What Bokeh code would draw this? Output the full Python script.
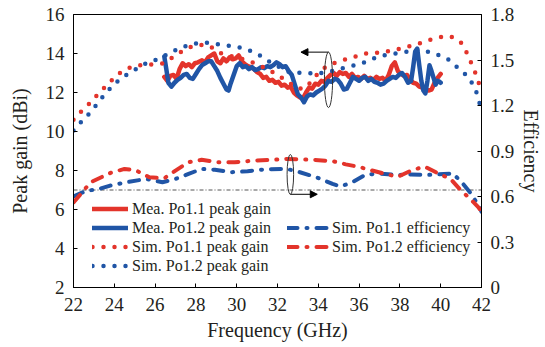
from bokeh.plotting import figure
from bokeh.models import (Range1d, LinearAxis, Legend, LegendItem, Arrow,
                          NormalHead, FixedTicker)
from bokeh.embed import file_html
from bokeh.resources import INLINE

# ---------------- data ----------------
x_ticks = list(range(22, 43, 2))
gain_ticks = [2, 4, 6, 8, 10, 12, 14, 16]
eff_ticks = [0, 0.3, 0.6, 0.9, 1.2, 1.5, 1.8]
eff_tick_labels = ["0", "0.3", "0.6", "0.9", "1.2", "1.5", "1.8"]

mea11_f = [26.45, 26.6, 26.75, 26.9, 27.05, 27.2, 27.35, 27.5, 27.65, 27.8, 27.95, 28.1, 28.3, 28.45,
           28.6, 28.75, 28.9, 29.05, 29.2, 29.35, 29.5, 29.65, 29.8, 29.95, 30.1, 30.25, 30.4, 30.55,
           30.7, 30.85, 31.0, 31.15, 31.3, 31.45, 31.6, 31.75, 31.9, 32.05, 32.2, 32.35, 32.5, 32.65,
           32.8, 32.95, 33.1, 33.25, 33.4, 33.55, 33.7, 33.85, 34.0, 34.15, 34.3, 34.45, 34.6, 34.75,
           34.9, 35.05, 35.2, 35.35, 35.5, 35.65, 35.8, 35.95, 36.1, 36.25, 36.4, 36.55, 36.7, 36.85,
           37.0, 37.15, 37.3, 37.45, 37.6, 37.75, 37.9, 38.05, 38.2, 38.35, 38.5, 38.65, 38.8, 38.95,
           39.1, 39.25, 39.4, 39.55, 39.7, 39.85, 40.0]
mea11_g = [12.8, 12.6, 12.85, 12.9, 12.7, 13.2, 13.5, 13.35, 13.45, 13.3, 13.5, 13.55, 13.65, 13.55,
           13.8, 13.9, 14.0, 13.6, 13.5, 13.75, 13.6, 13.8, 13.7, 13.75, 13.9, 13.6, 13.45, 13.35,
           13.3, 13.2, 13.05, 12.95, 12.75, 12.8, 12.6, 12.65, 12.5, 12.55, 12.35, 12.4, 12.25, 12.3,
           12.0, 11.85, 11.75, 11.7, 12.0, 12.25, 12.2, 12.45, 12.4, 12.6, 12.55, 12.75, 12.9, 13.0,
           12.85, 13.05, 12.95, 13.0, 12.8, 12.95, 12.75, 12.8, 12.7, 12.85, 12.7, 12.75, 12.65, 12.8,
           12.7, 12.75, 12.6, 12.9, 13.35, 13.55, 13.1, 12.95, 12.85, 12.9, 12.65, 12.5, 12.45, 12.3,
           12.25, 12.2, 12.1, 12.15, 12.5, 12.75, 12.95]

mea12_f = [26.45, 26.55, 26.65, 26.8, 26.95, 27.1, 27.25, 27.4, 27.55, 27.7, 27.85, 28.0, 28.15, 28.3,
           28.45, 28.6, 28.75, 28.9, 29.05, 29.2, 29.35, 29.5, 29.6, 29.7, 29.85, 30.0, 30.15, 30.3,
           30.45, 30.6, 30.75, 30.9, 31.05, 31.2, 31.35, 31.5, 31.65, 31.8, 31.95, 32.1, 32.25, 32.4,
           32.55, 32.7, 32.85, 33.0, 33.15, 33.3, 33.45, 33.6, 33.75, 33.9, 34.05, 34.2, 34.35, 34.5,
           34.65, 34.8, 34.95, 35.1, 35.25, 35.4, 35.55, 35.7, 35.85, 36.0, 36.15, 36.3, 36.45, 36.6,
           36.75, 36.9, 37.05, 37.2, 37.35, 37.5, 37.65, 37.8, 37.95, 38.1, 38.25, 38.4, 38.55, 38.65,
           38.75, 38.85, 38.95, 39.05, 39.15, 39.25, 39.35, 39.45, 39.55, 39.65, 39.75, 39.85, 39.95, 40.0]
mea12_g = [13.85, 13.2, 12.5, 12.3, 12.5, 12.65, 12.75, 12.9, 12.95, 12.75, 12.7, 12.95, 13.2, 13.4,
           13.5, 13.6, 13.6, 13.35, 13.1, 12.75, 12.45, 12.15, 12.1, 12.45, 12.9, 13.35, 13.5, 13.3,
           13.35, 13.2, 13.3, 13.15, 13.2, 13.3, 13.25, 13.35, 13.3, 13.4, 13.55, 13.45, 13.3, 13.35,
           13.1, 12.9, 12.4, 11.9, 11.75, 11.5, 11.8, 11.9, 11.85, 12.0, 12.1, 12.2, 12.35, 12.6,
           12.55, 12.7, 12.65, 12.45, 12.15, 12.2, 12.5, 12.8, 12.7, 12.6, 12.75, 12.8, 12.6, 12.7,
           12.55, 12.5, 12.4, 12.45, 12.6, 12.7, 12.8, 12.75, 12.9, 13.0, 12.8, 12.5, 12.6, 13.3,
           14.1, 14.25, 13.4, 12.6, 12.1, 11.95, 12.6, 13.4, 13.1, 12.75, 12.4, 12.6, 12.55, 12.5]

sim11_f = [22.0, 22.4, 22.75, 23.1, 23.47, 23.8, 24.2, 24.6, 24.9, 25.3, 25.6, 26.0, 26.4, 26.7, 27.0,
           27.3, 27.64, 28.0, 28.45, 28.8, 29.1, 29.6, 30.0, 30.5, 31.0, 31.5, 32.0, 32.5, 33.0, 33.3,
           33.7, 34.0, 34.4, 35.0, 35.7, 36.3, 37.0, 37.6, 38.2, 38.9, 39.35, 39.8, 40.3, 40.65, 41.0,
           41.27, 41.5, 41.7, 41.93, 42.0]
sim11_g = [10.6, 11.05, 11.4, 11.8, 12.2, 12.55, 12.95, 13.2, 13.33, 13.4, 13.42, 13.45, 13.5, 13.7, 13.9,
           14.1, 14.3, 14.4, 14.45, 14.3, 14.05, 13.9, 13.8, 13.65, 13.45, 13.2, 12.9, 12.55, 12.2, 12.2,
           12.6, 13.0, 13.35, 13.6, 13.8, 14.0, 14.05, 14.15, 14.3, 14.5, 14.67, 14.8, 14.9, 14.82, 14.55,
           14.05, 13.5, 13.0, 12.3, 12.0]

sim12_f = [22.0, 22.2, 22.67, 23.15, 23.6, 24.28, 24.9, 25.56, 26.1, 26.5, 27.16, 27.8, 28.45, 29.17,
           29.9, 30.37, 31.0, 31.5, 32.12, 32.6, 33.26, 33.9, 34.5, 35.0, 35.6, 36.15, 36.95, 37.75, 38.4,
           39.04, 39.68, 40.32, 40.8, 41.28, 41.68, 41.92, 42.0]
sim12_g = [10.05, 10.3, 10.8, 11.4, 12.0, 12.7, 13.1, 13.5, 13.7, 13.9, 14.25, 14.5, 14.56, 14.46,
           14.36, 14.26, 14.0, 13.64, 13.28, 13.03, 13.0, 12.97, 13.05, 13.2, 13.35, 13.5, 13.85, 14.0, 14.1,
           14.2, 14.0, 13.74, 13.3, 12.87, 12.26, 11.4, 11.1]

eff11_f = [22.0, 22.67, 23.15, 23.8, 24.6, 25.56, 26.36, 27.0, 27.64, 28.28, 28.93, 29.73, 30.53, 31.5,
           32.46, 33.1, 33.9, 34.7, 35.1, 35.67, 36.3, 36.95, 37.9, 38.55, 39.35, 40.15, 40.6, 41.1, 41.5,
           41.9, 42.0]
eff11_e = [0.60, 0.64, 0.645, 0.672, 0.694, 0.716, 0.694, 0.716, 0.749, 0.782, 0.776, 0.76, 0.767, 0.78,
           0.782, 0.76, 0.727, 0.683, 0.666, 0.694, 0.742, 0.752, 0.742, 0.745, 0.742, 0.749, 0.752, 0.683,
           0.617, 0.53, 0.50]

eff12_f = [22.0, 22.84, 23.8, 24.5, 25.08, 25.72, 26.45, 27.0, 27.64, 28.28, 29.09, 29.9, 30.86, 31.8,
           32.46, 33.74, 34.7, 35.35, 36.0, 36.6, 37.27, 37.9, 38.55, 39.2, 39.83, 40.48, 40.96, 41.44,
           41.84, 42.0]
eff12_e = [0.56, 0.694, 0.755, 0.782, 0.771, 0.727, 0.72, 0.771, 0.826, 0.842, 0.826, 0.826, 0.837, 0.842,
           0.848, 0.842, 0.833, 0.812, 0.795, 0.773, 0.749, 0.73, 0.771, 0.798, 0.755, 0.716, 0.645, 0.585,
           0.53, 0.50]

threshold_gain = 7.0

# annotation geometry (gain axis units)
ell_x = [34.5, 32.63]
ell_y = [12.65, 7.8]
ell_w = [0.4, 0.32]
ell_h = [2.85, 2.05]
arrow_up = dict(x_start=34.5, y_start=14.07, x_end=33.15, y_end=14.07)
arrow_lo = dict(x_start=32.63, y_start=6.78, x_end=33.95, y_end=6.78)

RED = "#e3342b"
BLUE = "#2055a6"
FONT = "Liberation Serif"
TXT = "#231f20"

p = figure(width=545, height=347, output_backend="svg", toolbar_location=None,
           x_range=Range1d(22, 42), y_range=Range1d(2, 16),
           min_border_left=73, min_border_right=57, min_border_top=14, min_border_bottom=60)
p.extra_y_ranges = {"eff": Range1d(0, 1.8)}

p.xgrid.visible = False
p.ygrid.visible = False
p.outline_line_color = "black"
p.outline_line_width = 1
p.background_fill_color = "white"
p.border_fill_color = "white"

# threshold line
p.line([22, 42], [threshold_gain, threshold_gain], line_color="#555555", line_width=1,
       line_dash="4 2 1 2")

r_mea11 = p.line(mea11_f, mea11_g, line_color=RED, line_width=4.5, line_join="round", line_cap="round")
r_mea12 = p.line(mea12_f, mea12_g, line_color=BLUE, line_width=4.5, line_join="round", line_cap="round")
r_sim11 = p.line(sim11_f, sim11_g, line_color=RED, line_width=4.5, line_dash="0 11", line_cap="round")
r_sim12 = p.line(sim12_f, sim12_g, line_color=BLUE, line_width=4.5, line_dash="0 11", line_cap="round")
r_eff11 = p.line(eff11_f, eff11_e, y_range_name="eff", line_color=BLUE, line_width=4,
                 line_dash="10 9 1 9", line_cap="round")
r_eff12 = p.line(eff12_f, eff12_e, y_range_name="eff", line_color=RED, line_width=4,
                 line_dash="10 9 1 9", line_cap="round")

p.ellipse(x=ell_x, y=ell_y, width=ell_w, height=ell_h, fill_alpha=0,
          line_color="#333333", line_width=1)
for a in (arrow_up, arrow_lo):
    p.add_layout(Arrow(end=NormalHead(size=7, fill_color="black", line_color="black"),
                       line_color="black", line_width=1, **a))

# axes
right = LinearAxis(y_range_name="eff")
p.add_layout(right, "right")

for ax in (p.xaxis[0], p.yaxis[0], right):
    ax.major_tick_in = 4
    ax.major_tick_out = 0
    ax.minor_tick_in = 0
    ax.minor_tick_out = 0
    ax.axis_line_color = "black"
    ax.major_tick_line_color = "black"
    ax.major_label_text_font = FONT
    ax.major_label_text_font_size = "19px"
    ax.major_label_text_color = TXT
    ax.axis_label_text_font = FONT
    ax.axis_label_text_font_size = "20px"
    ax.axis_label_text_font_style = "normal"
    ax.axis_label_text_color = TXT

p.xaxis[0].ticker = FixedTicker(ticks=x_ticks)
p.yaxis[0].ticker = FixedTicker(ticks=gain_ticks)
right.ticker = FixedTicker(ticks=eff_ticks)
right.major_label_overrides = dict(zip(eff_ticks, eff_tick_labels))

p.xaxis[0].axis_label = "Frequency (GHz)"
p.yaxis[0].axis_label = "Peak gain (dBi)"
right.axis_label = "Efficiency"
p.xaxis[0].major_label_standoff = 10
p.xaxis[0].axis_label_standoff = 5
p.yaxis[0].major_label_standoff = 9
p.yaxis[0].axis_label_standoff = 12
right.major_label_standoff = 9
right.axis_label_standoff = 3

leg1 = Legend(items=[LegendItem(label="Mea. Po1.1 peak gain", renderers=[r_mea11]),
                     LegendItem(label="Mea. Po1.2 peak gain", renderers=[r_mea12]),
                     LegendItem(label="Sim. Po1.1 peak gain", renderers=[r_sim11]),
                     LegendItem(label="Sim. Po1.2 peak gain", renderers=[r_sim12])],
              location=(19, 12), glyph_width=36, glyph_height=19, label_height=19,
              label_standoff=4, spacing=0, padding=0, margin=0)
leg2 = Legend(items=[LegendItem(label="Sim. Po1.1 efficiency", renderers=[r_eff11]),
                     LegendItem(label="Sim. Po1.2 efficiency", renderers=[r_eff12])],
              location=(214, 31), glyph_width=43, glyph_height=19, label_height=19,
              label_standoff=2, spacing=0, padding=0, margin=0)
for lg in (leg1, leg2):
    lg.label_text_font = FONT
    lg.label_text_font_size = "16px"
    lg.label_text_color = TXT
    lg.background_fill_alpha = 0
    lg.border_line_alpha = 0
    p.add_layout(lg)

open("out.html", "w").write(file_html(p, INLINE))
